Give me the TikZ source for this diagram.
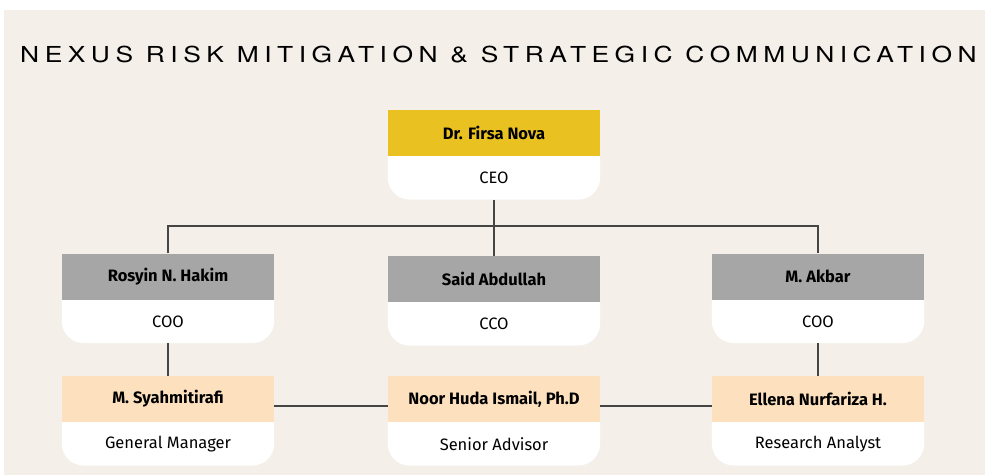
\documentclass[tikz,border=0pt]{standalone}
\usepackage{fontspec}
\setmainfont{Fira Sans}
\newfontfamily\titlefont[LetterSpace=20.8]{TeX Gyre Heros}
\usetikzlibrary{positioning}

\definecolor{paper}{HTML}{F4EFE9}
\definecolor{ceogold}{HTML}{E9C221}
\definecolor{chiefgray}{HTML}{A6A6A6}
\definecolor{staffpeach}{HTML}{FDE1BF}
\definecolor{wire}{HTML}{454545}

\pgfdeclarelayer{bg}
\pgfsetlayers{bg,main}

\tikzset{
  head/.style={fill=#1, minimum width=212, minimum height=46, inner sep=0,
    font=\bfseries\fontsize{16.5}{19}\selectfont},
  role/.style={minimum width=212, minimum height=43, inner sep=0,
    font=\fontsize{16.5}{19}\selectfont},
  link/.style={draw=wire, line width=1.2pt},
}

% header node #1, role node #1-r, white card with round bottom corners
\newcommand\orgbox[5]{%
  \node[head=#3] (#1) at (#2) {#4};
  \node[role, below=0 of #1] (#1-r) {#5};
  \begin{pgfonlayer}{bg}
    \fill[white] (#1-r.north west) [rounded corners=22] -- (#1-r.south west)
      -- (#1-r.south east) [sharp corners] -- (#1-r.north east) -- cycle;
  \end{pgfonlayer}
}

\begin{document}
\begin{tikzpicture}[x=1pt, y=-1pt]

\useasboundingbox (0,0) rectangle (985,475);
\begin{pgfonlayer}{bg}
  \fill[paper] (4,10) rectangle (985,475);
\end{pgfonlayer}

% title
\node[anchor=base west, inner sep=0] (title) at (20,62)
  {\scalebox{1.2}[1]{\titlefont\fontsize{22}{24}\selectfont NEXUS RISK MITIGATION \& STRATEGIC COMMUNICATION}};

% boxes
\orgbox{ceo}{494,133}{ceogold}{Dr. Firsa Nova}{CEO}
\orgbox{rosyin}{168,276.5}{chiefgray}{Rosyin N. Hakim}{COO}
\orgbox{said}{494,279}{chiefgray}{Said Abdullah}{CCO}
\orgbox{akbar}{818,276.5}{chiefgray}{M. Akbar}{COO}
\orgbox{syah}{168,399}{staffpeach}{M. Syahmitirafi}{General Manager}
\orgbox{noor}{494,399}{staffpeach}{Noor Huda Ismail, Ph.D}{Senior Advisor}
\orgbox{ellena}{818,399}{staffpeach}{Ellena Nurfariza H.}{Research Analyst}

% connectors
\coordinate (bus) at (494,226);
\draw[link] (ceo-r.south) -- (said.north);
\draw[link] (rosyin.north) |- (bus) -| (akbar.north);
\draw[link] (rosyin-r.south) -- (syah.north);
\draw[link] (akbar-r.south) -- (ellena.north);
\draw[link] ([yshift=-7pt]syah.east) -- ([yshift=-7pt]noor.west);
\draw[link] ([yshift=-7pt]noor.east) -- ([yshift=-7pt]ellena.west);

\end{tikzpicture}
\end{document}
